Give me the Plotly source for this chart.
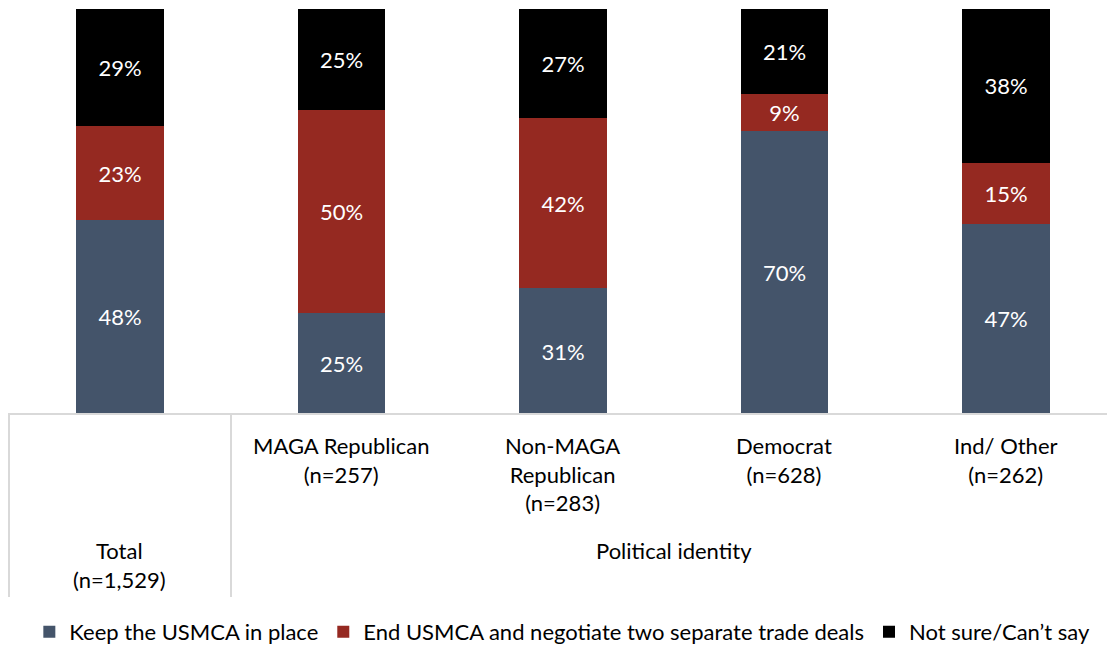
import plotly.graph_objects as go

# ---- data ----
categories = ["Total", "MAGA Republican", "Non-MAGA Republican", "Democrat", "Ind/ Other"]
cat_labels = ["Total<br>(n=1,529)", "MAGA Republican<br>(n=257)", "Non-MAGA<br>Republican<br>(n=283)",
              "Democrat<br>(n=628)", "Ind/ Other<br>(n=262)"]
group_label = "Political identity"
series_names = ["Keep the USMCA in place", "End USMCA and negotiate two separate trade deals", "Not sure/Can\u2019t say"]
keep = [48, 25, 31, 70, 47]
end_deal = [23, 50, 42, 9, 15]
not_sure = [29, 25, 27, 21, 38]

colors = ["#44546A", "#952921", "#000000"]
FONT = "Lato"
FS = 22

W, H = 1107, 648
plot_l, plot_r, plot_t, plot_b = 8, 1107, 9, 414
ph = plot_b - plot_t

def py(pix):
    return (plot_b - pix) / ph

def px(pix):
    return (pix - plot_l) / (plot_r - plot_l)

xpos = list(range(len(categories)))
fig = go.Figure()
for name, vals, col in zip(series_names, [keep, end_deal, not_sure], colors):
    fig.add_trace(go.Bar(
        x=xpos, y=vals, name=name, marker=dict(color=col, line=dict(width=0)),
        width=0.397, text=[f"{v}%" for v in vals], textposition="inside",
        insidetextanchor="middle", textangle=0,
        textfont=dict(color="white", size=FS, family=FONT),
        hoverinfo="skip",
    ))

# category labels
for i, lab in enumerate(cat_labels):
    ypix = 535 if i == 0 else 430
    fig.add_annotation(x=i, y=py(ypix), xref="x", yref="paper", text=lab, showarrow=False,
                       xanchor="center", yanchor="top", font=dict(size=FS, family=FONT, color="#000"),
                       align="center")
fig.add_annotation(x=2.5, y=py(535), xref="x", yref="paper", text=group_label, showarrow=False,
                   xanchor="center", yanchor="top", font=dict(size=FS, family=FONT, color="#000"))

# separator lines
line_col = "#D9D9D9"
fig.add_shape(type="line", xref="paper", yref="paper", x0=0, x1=1, y0=0, y1=0,
              line=dict(color=line_col, width=2))
for xp in [9, 231]:
    fig.add_shape(type="line", xref="paper", yref="paper",
                  x0=px(xp), x1=px(xp), y0=0, y1=py(597), line=dict(color=line_col, width=2))

fig.update_layout(
    width=W, height=H, barmode="stack",
    margin=dict(l=plot_l, r=W - plot_r, t=plot_t, b=H - plot_b, pad=0),
    paper_bgcolor="white", plot_bgcolor="white",
    font=dict(family=FONT, size=FS, color="#000"),
    xaxis=dict(range=[-0.5056, 4.456], showticklabels=False, showgrid=False, zeroline=False,
               showline=False, ticks=""),
    yaxis=dict(range=[0, 100], visible=False, showgrid=False, zeroline=False),
    legend=dict(orientation="h", x=0.5044, xanchor="center", yref="container",
                y=1 - 632 / H, yanchor="middle",
                font=dict(size=FS, family=FONT), itemwidth=30, traceorder="normal"),
    showlegend=True,
)

fig.write_html("out.html", config={"displayModeBar": False},
               post_script="document.body.style.margin='0px';")
